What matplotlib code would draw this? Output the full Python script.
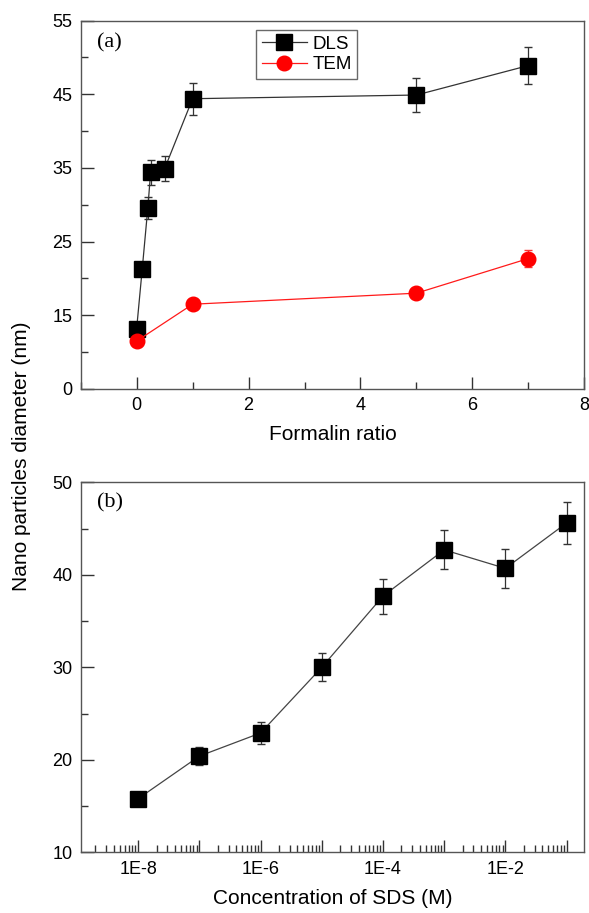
import matplotlib
matplotlib.use("Agg")
import matplotlib.pyplot as plt
from matplotlib.lines import Line2D
from matplotlib.ticker import FixedLocator, MultipleLocator, FuncFormatter, NullFormatter
import numpy as np

plt.rcParams["font.family"] = ["Liberation Sans", "DejaVu Sans"]

# (a) formalin ratio
formalin = [0, 0.1, 0.2, 0.25, 0.5, 1, 5, 7]
dls_a = [13.2, 21.3, 29.6, 34.4, 34.9, 44.4, 44.9, 48.9]
dls_a_err = [0.6, 1.0, 1.5, 1.7, 1.7, 2.2, 2.3, 2.5]
formalin_tem = [0, 1, 5, 7]
tem_a = [11.5, 16.5, 18.0, 22.7]
tem_a_err = [0.3, 0.4, 0.5, 1.2]

# (b) SDS concentration
sds = [1e-8, 1e-7, 1e-6, 1e-5, 1e-4, 1e-3, 1e-2, 1e-1]
dls_b = [15.8, 20.4, 22.9, 30.0, 37.7, 42.7, 40.7, 45.6]
dls_b_err = [0.3, 1.0, 1.2, 1.5, 1.9, 2.1, 2.1, 2.3]

y_ticks_a = [5, 15, 25, 35, 45, 55]
y_labels_a = ["0", "15", "25", "35", "45", "55"]

fig = plt.figure(figsize=(5.89, 9.13), dpi=100)
ax1 = fig.add_axes([0.137, 0.574, 0.855, 0.4034])
ax2 = fig.add_axes([0.137, 0.0665, 0.855, 0.4052])

spine_col = "#555555"
for ax in (ax1, ax2):
    for s in ax.spines.values():
        s.set_color(spine_col)
        s.set_linewidth(1.0)
    ax.tick_params(which="both", direction="in", top=False, right=False,
                   colors="#333333", labelcolor="black", labelsize=13)
    ax.tick_params(which="major", length=9, width=1.0, pad=6)
    ax.tick_params(which="minor", length=5, width=1.0)

# panel (a)
ax1.errorbar(formalin, dls_a, yerr=dls_a_err, color="#333333", lw=0.9,
             marker="s", ms=11, mfc="black", mec="black", ecolor="#333333",
             elinewidth=0.9, capsize=3, zorder=3)
ax1.errorbar(formalin_tem, tem_a, yerr=tem_a_err, color="#ff1a1a", lw=0.9,
             marker="o", ms=10.5, mfc="#ff0000", mec="#ff0000", ecolor="#ff3333",
             elinewidth=0.9, capsize=3, zorder=3)
ax1.set_xlim(-1, 8)
ax1.set_ylim(5, 55)
ax1.xaxis.set_major_locator(MultipleLocator(2))
ax1.xaxis.set_minor_locator(MultipleLocator(1))
ax1.yaxis.set_major_locator(FixedLocator(y_ticks_a))
ax1.set_yticklabels(y_labels_a)
ax1.yaxis.set_minor_locator(MultipleLocator(5))
ax1.set_xlabel("Formalin ratio", fontsize=15, labelpad=8)
handles = [
    Line2D([], [], color="#333333", lw=0.9, marker="s", ms=11, mfc="black", mec="black"),
    Line2D([], [], color="#ff1a1a", lw=0.9, marker="o", ms=10.5, mfc="#ff0000", mec="#ff0000"),
]
leg = ax1.legend(handles, ["DLS", "TEM"], loc="upper left",
                 bbox_to_anchor=(0.348, 0.975), fontsize=13.5,
                 frameon=True, fancybox=False, edgecolor="#444444",
                 handlelength=2.4, borderpad=0.3, labelspacing=0.2,
                 handletextpad=0.3, borderaxespad=0)
leg.get_frame().set_linewidth(1.0)
ax1.text(0.032, 0.94, "(a)", transform=ax1.transAxes, fontsize=16,
         family=["Liberation Serif", "DejaVu Serif"], va="center", ha="left")

# panel (b)
ax2.errorbar(sds, dls_b, yerr=dls_b_err, color="#444444", lw=0.9,
             marker="s", ms=11, mfc="black", mec="black", ecolor="#333333",
             elinewidth=0.9, capsize=3, zorder=3)
ax2.set_xscale("log")
ax2.set_xlim(10 ** -8.94, 10 ** -0.71)
ax2.set_ylim(10, 50)
decades = [10.0 ** e for e in range(-8, 0)]
minor = [m * 10.0 ** e for e in range(-9, 0) for m in range(2, 10)]
ax2.xaxis.set_major_locator(FixedLocator(decades))
ax2.xaxis.set_minor_locator(FixedLocator(minor))
ax2.xaxis.set_minor_formatter(NullFormatter())


def sds_fmt(v, pos):
    e = int(round(np.log10(v)))
    return "1E%d" % e if e % 2 == 0 else ""


ax2.xaxis.set_major_formatter(FuncFormatter(sds_fmt))
ax2.yaxis.set_major_locator(MultipleLocator(10))
ax2.yaxis.set_minor_locator(MultipleLocator(5))
ax2.set_xlabel("Concentration of SDS (M)", fontsize=15, labelpad=8)
ax2.text(0.032, 0.944, "(b)", transform=ax2.transAxes, fontsize=16,
         family=["Liberation Serif", "DejaVu Serif"], va="center", ha="left")

fig.text(0.037, 0.5, "Nano particles diameter (nm)", rotation=90,
         fontsize=15, va="center", ha="center")

fig.savefig("out.png", dpi=100)
